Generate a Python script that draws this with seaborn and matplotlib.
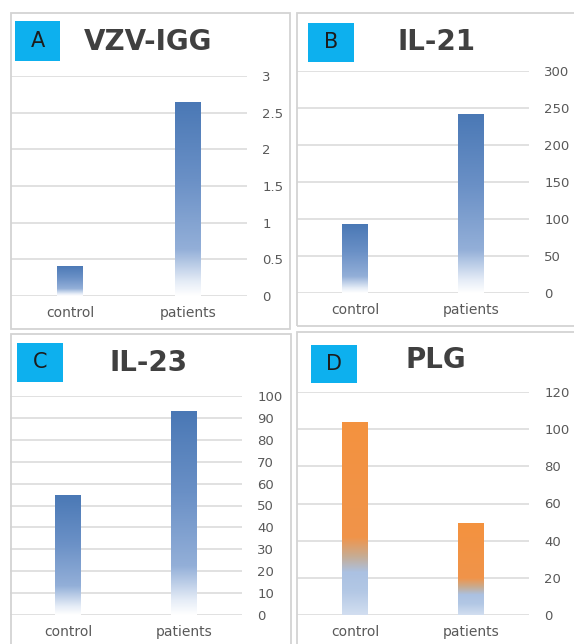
import numpy as np
import pandas as pd
import matplotlib
matplotlib.use("Agg")
import matplotlib.pyplot as plt
from matplotlib.colors import LinearSegmentedColormap
from matplotlib.patches import Rectangle
import seaborn as sns

# ---- data -------------------------------------------------------------
categories = ["control", "patients"]

vzv_igg = [0.41, 2.65]
il21 = [93, 242]
il23 = [55, 93]
plg = [104, 49.5]

vzv_ticks = [0, 0.5, 1, 1.5, 2, 2.5, 3]
il21_ticks = [0, 50, 100, 150, 200, 250, 300]
il23_ticks = [0, 10, 20, 30, 40, 50, 60, 70, 80, 90, 100]
plg_ticks = [0, 20, 40, 60, 80, 100, 120]

panel_letters = ["A", "B", "C", "D"]
panel_titles = ["VZV-IGG", "IL-21", "IL-23", "PLG"]

# ---- styling ----------------------------------------------------------
sns.set_theme(style="white")
plt.rcParams["font.family"] = ["DejaVu Sans"]

W, H = 574, 644
fig = plt.figure(figsize=(W / 100, H / 100), dpi=100)
fig.patch.set_facecolor("white")

blue_fade = LinearSegmentedColormap.from_list(
    "blue_fade",
    [(0.0, "#ffffff"), (0.07, "#e6edf7"), (0.24, "#93afd8"),
     (0.6, "#6a90c6"), (1.0, "#4a78b5")])
orange_fade = LinearSegmentedColormap.from_list(
    "orange_fade",
    [(0.0, "#d2def0"), (0.12, "#b3c8e5"), (0.22, "#abc1e2"),
     (0.30, "#c6ad95"), (0.40, "#f0944a"), (1.0, "#f4923f")])


def fx(x):
    return x / W


def fy(y):
    return 1 - y / H


def rect(x0, y0, x1, y1):
    return [fx(x0), fy(y1), (x1 - x0) / W, (y1 - y0) / H]


def fmt(v):
    return f"{v:g}"


panels = [
    dict(values=vzv_igg, ticks=vzv_ticks, cmap=blue_fade,
         frame=(11, 13, 290, 329), axes=(11, 76, 247, 296),
         box=(15, 21, 60, 61), title_xy=(148, 42), pad=11),
    dict(values=il21, ticks=il21_ticks, cmap=blue_fade,
         frame=(297, 13, 582, 326), axes=(297, 71, 529, 293),
         box=(308, 23, 354, 62), title_xy=(436, 42), pad=11),
    dict(values=il23, ticks=il23_ticks, cmap=blue_fade,
         frame=(11, 334, 291, 650), axes=(10, 396, 242, 615),
         box=(17, 343, 63, 382), title_xy=(149, 363), pad=11),
    dict(values=plg, ticks=plg_ticks, cmap=orange_fade,
         frame=(297, 332, 582, 650), axes=(297, 392, 529, 615),
         box=(311, 345, 357, 383), title_xy=(436, 360), pad=11),
]

grad = np.linspace(0, 1, 256).reshape(-1, 1)

for p, letter, title in zip(panels, panel_letters, panel_titles):
    # panel frame
    fx0, fy0, fx1, fy1 = p["frame"]
    fig.add_artist(Rectangle((fx(fx0), fy(fy1)), (fx1 - fx0) / W,
                             (fy1 - fy0) / H, transform=fig.transFigure,
                             fill=False, edgecolor="#d3d3d3", lw=1.3))

    ax = fig.add_axes(rect(*p["axes"]))
    df = pd.DataFrame({"group": categories, "value": p["values"]})
    sns.barplot(data=df, x="group", y="value", ax=ax, width=0.22,
                color=p["cmap"](1.0), saturation=1, edgecolor="none")

    # vertical colour fade inside each bar
    for bar in ax.patches:
        x0, w, h = bar.get_x(), bar.get_width(), bar.get_height()
        img = ax.imshow(grad, cmap=p["cmap"], origin="lower",
                        extent=[x0, x0 + w, 0, h], aspect="auto",
                        interpolation="bilinear", zorder=3)
        img.set_clip_path(bar)

    top = p["ticks"][-1]
    ax.set_xlim(-0.5, 1.5)
    ax.set_ylim(0, top)
    ax.set_aspect("auto")
    ax.set_yticks(p["ticks"])
    ax.set_yticklabels([fmt(t) for t in p["ticks"]])
    ax.set_xlabel("")
    ax.set_ylabel("")

    ax.set_axisbelow(True)
    ax.yaxis.grid(True, color="#d9d9d9", lw=1.1)
    ax.xaxis.grid(False)
    for s in ax.spines.values():
        s.set_visible(False)

    ax.tick_params(axis="y", length=0, pad=p["pad"], labelcolor="#595959",
                   labelsize=9.5, left=False, labelleft=False,
                   right=True, labelright=True)
    ax.tick_params(axis="x", length=0, pad=7, labelcolor="#595959",
                   labelsize=10)
    ax.patch.set_alpha(0)

    # letter badge
    bx0, by0, bx1, by1 = p["box"]
    fig.add_artist(Rectangle((fx(bx0), fy(by1)), (bx1 - bx0) / W,
                             (by1 - by0) / H, transform=fig.transFigure,
                             facecolor="#0db0ee", edgecolor="none"))
    fig.text(fx((bx0 + bx1) / 2), fy((by0 + by1) / 2), letter,
             ha="center", va="center", fontsize=15, color="#1c1c1c")

    # panel title
    tx, ty = p["title_xy"]
    fig.text(fx(tx), fy(ty), title, ha="center", va="center",
             fontsize=20, fontweight="bold", color="#404040")

fig.savefig("out.png", dpi=100, facecolor="white")
